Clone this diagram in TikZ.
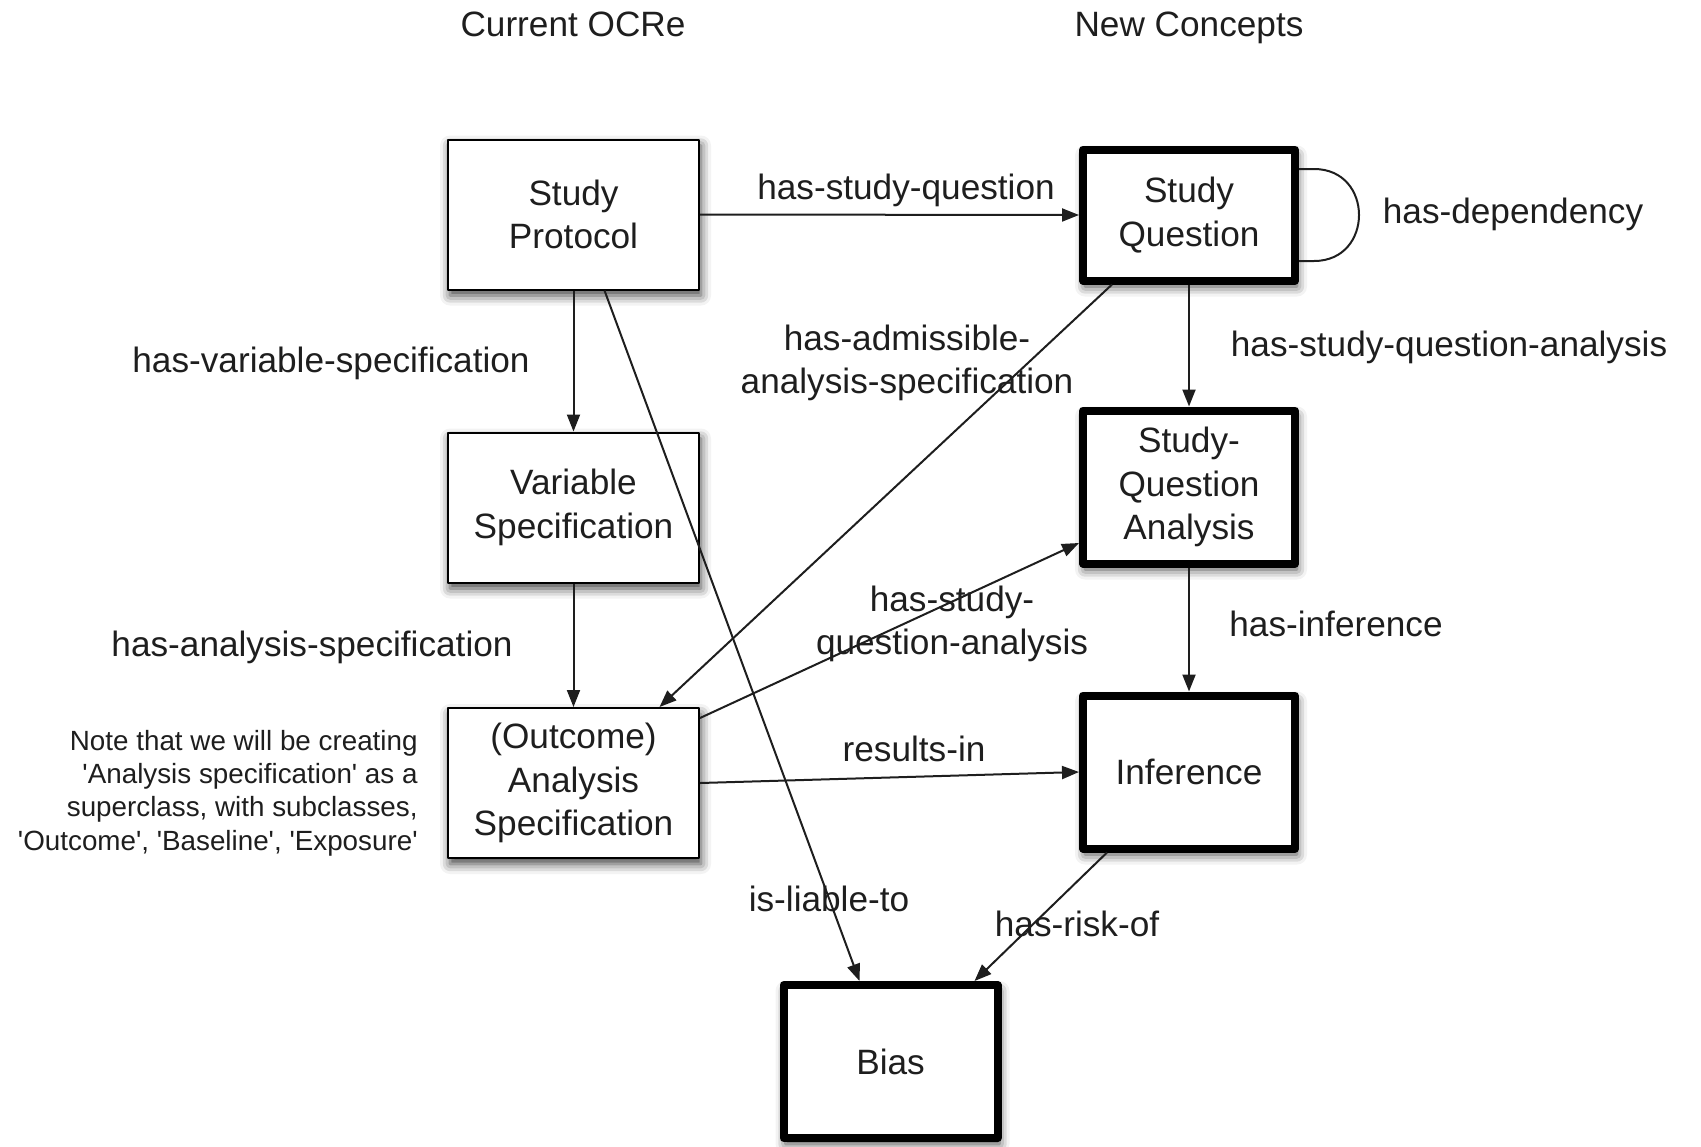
\documentclass[tikz,border=0pt]{standalone}
\usepackage{fontspec}
\setmainfont{Liberation Sans}
\usetikzlibrary{arrows.meta,shadows.blur,calc}
\definecolor{ink}{HTML}{1E1E1E}

\begin{document}
\begin{tikzpicture}[x=0.5pt,y=-0.5pt,
  lbl/.style={font=\fontsize{17.6}{21.7}\selectfont, text=ink, align=center, inner sep=0pt},
  notetext/.style={font=\fontsize{13.9}{16.6}\selectfont, text=ink, align=right, inner sep=0pt},
  boxbase/.style={lbl, fill=white, draw=black, line join=round,
    blur shadow={shadow xshift=1pt, shadow yshift=-3pt, shadow blur radius=5pt, shadow opacity=75}},
  oldbox/.style={boxbase, line width=1pt, minimum width=125.5pt, minimum height=75pt},
  newbox/.style={boxbase, line width=4pt, minimum width=106pt, minimum height=76.5pt},
  link/.style={draw=ink, line width=1pt, -{Triangle[length=8.5pt,width=6.5pt]}}]

\useasboundingbox (0,0) rectangle (1701,1146);

% column headings
\node[lbl, anchor=base] (hdold) at (573,36) {Current OCRe};
\node[lbl, anchor=base] (hdnew) at (1189,36) {New Concepts};

% classes of the current model
\node[oldbox] (sp) at (573.5,214.5) {Study\\Protocol};
\node[oldbox] (vs) at (573.5,507.5) {Variable\\Specification};
\node[oldbox] (as) at (573.5,783) {(Outcome)\\Analysis\\Specification};

% new classes
\node[newbox, minimum height=65.5pt] (sq) at (1189,215) {Study\\Question};
\node[newbox] (sqa) at (1189,487) {Study-\\Question\\Analysis};
\node[newbox] (inf) at (1189,772) {Inference};
\node[newbox, minimum width=107pt] (bias) at (890.5,1061.5) {Bias};

% relations
\draw[link] (sp.east) -- (sq.west);
\draw[link] (sp.south) -- (vs.north);
\draw[link] (vs.south) -- (as.north);
\draw[link] ($(sp.south)+(31,0)$) -- ($(bias.north)+(-31,0)$);
\draw[link] ($(sq.south)+(-77,0)$) -- ($(as.north)+(86,0)$);
\draw[link] ($(as.east)+(0,-65)$) -- ($(sqa.west)+(0,56)$);
\draw[link] (as.east) -- (inf.west);
\draw[link] (sq.south) -- (sqa.north);
\draw[link] (sqa.south) -- (inf.north);
\draw[link] ($(inf.south)+(-82,0)$) -- ($(bias.north)+(84,0)$);

% self relation of the study question
\draw[draw=ink, line width=1pt] ($(sq.east)+(0,-46)$) -- ++(15,0)
  .. controls ++(60,0) and ++(60,0) .. ($(sq.east)+(15,46)$) -- ($(sq.east)+(0,46)$);

% relation names
\node[lbl] (l1) at (906,190) {has-study-question};
\node[lbl] (l2) at (1513,214) {has-dependency};
\node[lbl] (l3) at (331,363) {has-variable-specification};
\node[lbl] (l4) at (907,363) {has-admissible-\\analysis-specification};
\node[lbl] (l5) at (1449,347) {has-study-question-analysis};
\node[lbl] (l6) at (312,647) {has-analysis-specification};
\node[lbl] (l7) at (952,624) {has-study-\\question-analysis};
\node[lbl] (l8) at (1336,624) {has-inference};
\node[lbl] (l9) at (914,749) {results-in};
\node[lbl] (l10) at (829,899) {is-liable-to};
\node[lbl] (l11) at (1077,924) {has-risk-of};

% remark on the analysis specification class
\node[notetext, anchor=east] (note) at (418,793) {Note that we will be creating\\\textquotesingle Analysis specification\textquotesingle{} as a\\superclass, with subclasses,\\\textquotesingle Outcome\textquotesingle, \textquotesingle Baseline\textquotesingle, \textquotesingle Exposure\textquotesingle};
\end{tikzpicture}
\end{document}
